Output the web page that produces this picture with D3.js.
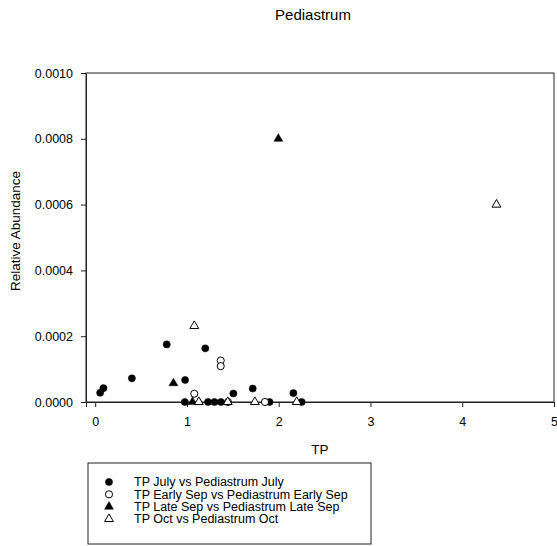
<!DOCTYPE html>
<html>
<head>
<meta charset="utf-8">
<script src="https://cdn.jsdelivr.net/npm/d3@7"></script>
<style>
  html, body { margin: 0; padding: 0; background: #fff; }
  svg { display: block; font-family: "Liberation Sans", Arial, sans-serif; }
</style>
</head>
<body>
<svg id="chart" width="557" height="546"></svg>
<script>
// Total phosphorus (TP) against Pediastrum relative abundance, four sampling dates
const seriesNames = [
  "TP July vs Pediastrum July",
  "TP Early Sep vs Pediastrum Early Sep",
  "TP Late Sep vs Pediastrum Late Sep",
  "TP Oct vs Pediastrum Oct"
];

const julyTP  = [0.054, 0.09, 0.40, 0.78, 0.98, 1.20, 1.506, 1.717, 2.16, 0.977, 1.23, 1.30, 1.37, 1.90, 2.25];
const julyAbd = [0.000028, 0.000042, 0.000072, 0.000175, 0.000067, 0.000163, 0.000026, 0.000041, 0.000027, 0, 0, 0, 0, 0, 0];

const earlySepTP  = [1.08, 1.368, 1.368, 1.447, 1.85];
const earlySepAbd = [0.000025, 0.000126, 0.000109, 0, 0];

const lateSepTP  = [0.853, 1.996, 1.06];
const lateSepAbd = [0.000057, 0.0008, 0];

const octTP  = [1.08, 4.373, 1.13, 1.445, 1.74, 2.196];
const octAbd = [0.000231, 0.0006, 0, 0, 0, 0];

const xTicks = [0, 1, 2, 3, 4, 5];
const yTicks = [0, 0.0002, 0.0004, 0.0006, 0.0008, 0.0010];

const series = [
  { name: seriesNames[0], xs: julyTP, ys: julyAbd, shape: "circle", filled: true },
  { name: seriesNames[1], xs: earlySepTP, ys: earlySepAbd, shape: "circle", filled: false },
  { name: seriesNames[2], xs: lateSepTP, ys: lateSepAbd, shape: "triangle", filled: true },
  { name: seriesNames[3], xs: octTP, ys: octAbd, shape: "triangle", filled: false }
];

const svg = d3.select("#chart");
const plot = { left: 86, right: 554, top: 73, bottom: 402 };

const x = d3.scaleLinear().domain([-0.1, 5]).range([plot.left, plot.right]);
const y = d3.scaleLinear().domain([0, 0.001]).range([plot.bottom, plot.top]);

const symbolFor = s => d3.symbol()
  .type(s.shape === "circle" ? d3.symbolCircle : d3.symbolTriangle)
  .size(s.shape === "circle" ? 40 : 34);

// Title
svg.append("text")
  .attr("x", 313).attr("y", 19.5)
  .attr("text-anchor", "middle")
  .attr("font-size", 15)
  .attr("fill", "#000")
  .text("Pediastrum");

// Frame
svg.append("rect")
  .attr("x", plot.left).attr("y", plot.top)
  .attr("width", plot.right - plot.left).attr("height", plot.bottom - plot.top)
  .attr("fill", "none").attr("stroke", "#222").attr("stroke-width", 1);

// Axes
const yAxis = d3.axisLeft(y).tickValues(yTicks).tickFormat(d3.format(".4f"))
  .tickSize(5).tickPadding(8);
const gy = svg.append("g").attr("transform", `translate(${plot.left},0)`).call(yAxis);

const xAxis = d3.axisBottom(x).tickValues(xTicks).tickFormat(d3.format("d"))
  .tickSize(5).tickPadding(10);
const gx = svg.append("g").attr("transform", `translate(0,${plot.bottom})`).call(xAxis);

[gx, gy].forEach(g => {
  g.select(".domain").attr("stroke", "#222");
  g.selectAll(".tick line").attr("stroke", "#222");
  g.selectAll(".tick text").attr("font-size", 12.5).attr("fill", "#000")
    .attr("font-family", "Liberation Sans, Arial, sans-serif");
});

// Axis titles
svg.append("text")
  .attr("x", (plot.left + plot.right) / 2).attr("y", 454)
  .attr("text-anchor", "middle").attr("font-size", 13.5).attr("fill", "#000")
  .text("TP");

svg.append("text")
  .attr("transform", "translate(20,231) rotate(-90)")
  .attr("text-anchor", "middle").attr("font-size", 13.5).attr("fill", "#000")
  .text("Relative Abundance");

// Points
series.forEach(s => {
  const pts = s.xs.map((v, i) => [v, s.ys[i]]);
  svg.append("g").selectAll("path")
    .data(pts)
    .join("path")
    .attr("d", symbolFor(s))
    .attr("transform", d => `translate(${x(d[0])},${y(d[1])})`)
    .attr("fill", s.filled ? "#000" : "#fff")
    .attr("stroke", "#000")
    .attr("stroke-width", s.filled ? 0.5 : 1);
});

// Legend
const legend = svg.append("g");
legend.append("rect")
  .attr("x", 88).attr("y", 463).attr("width", 283).attr("height", 81)
  .attr("fill", "#fff").attr("stroke", "#222").attr("stroke-width", 1);

const rowY = d3.scalePoint().domain(seriesNames).range([482, 519]);

series.forEach(s => {
  const cy = rowY(s.name);
  legend.append("path")
    .attr("d", symbolFor(s))
    .attr("transform", `translate(109,${cy})`)
    .attr("fill", s.filled ? "#000" : "#fff")
    .attr("stroke", "#000")
    .attr("stroke-width", s.filled ? 0.5 : 1);
  legend.append("text")
    .attr("x", 134).attr("y", cy).attr("dy", "0.35em")
    .attr("font-size", 12.5).attr("fill", "#000")
    .text(s.name);
});
</script>
</body>
</html>
